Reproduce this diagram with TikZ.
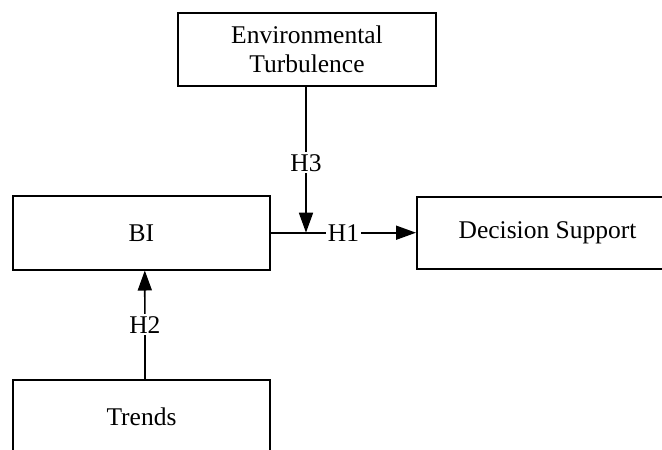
\documentclass[tikz,border=0pt]{standalone}
\usepackage{fontspec}
\setmainfont{Liberation Serif}
\usetikzlibrary{arrows.meta}
\begin{document}
\begin{tikzpicture}[x=1pt,y=-1pt,
  box/.style={draw,line width=2pt,inner sep=0pt,align=center,
    font=\fontsize{25.5}{28.5}\selectfont},
  conn/.style={line width=1.7pt,-{Triangle[length=20pt,width=14pt]}},
  lbl/.style={fill=white,inner sep=2pt,font=\fontsize{25.5}{28.5}\selectfont}]
\useasboundingbox (0,0) rectangle (662,450);
\node[box,minimum width=258pt,minimum height=73.3pt] (env) at (307,49.4) {Environmental\\Turbulence};
\node[box,minimum width=257.3pt,minimum height=73.6pt] (bi) at (141.3,232.7) {BI};
\node[box,minimum width=261pt,minimum height=72.3pt] (ds) at (547.5,232.7) {Decision Support};
\node[box,minimum width=257.6pt,minimum height=73pt] (tr) at (141.5,416.6) {Trends};
\coordinate (j) at ([xshift=-1pt]env.south |- bi.east);
\draw[conn] (bi.east) -- node[lbl]{H1} (ds.west);
\draw[conn] ([xshift=-1pt]env.south) -- node[lbl,pos=0.52]{H3} (j);
\draw[conn] ([xshift=3.5pt]tr.north) -- node[lbl]{H2} ([xshift=3.5pt]bi.south);
\end{tikzpicture}
\end{document}
